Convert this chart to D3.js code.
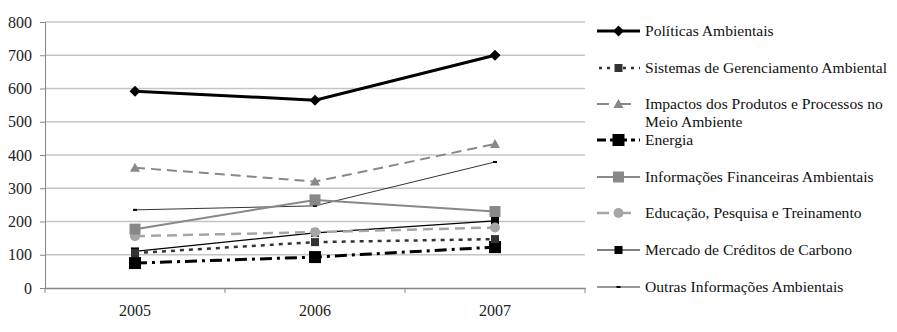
<!DOCTYPE html>
<html>
<head>
<meta charset="utf-8">
<script src="https://cdn.jsdelivr.net/npm/d3@7"></script>
<style>
  body { margin: 0; background: #fff; }
  text { font-family: "Liberation Serif", "Times New Roman", serif; }
</style>
</head>
<body>
<div id="chart"></div>
<script>
const years = ["2005", "2006", "2007"];
const yTicks = [0, 100, 200, 300, 400, 500, 600, 700, 800];

const names = [
    "Políticas Ambientais",
    "Sistemas de Gerenciamento Ambiental",
    "Impactos dos Produtos e Processos no Meio Ambiente",
    "Energia",
    "Informações Financeiras Ambientais",
    "Educação, Pesquisa e Treinamento",
    "Mercado de Créditos de Carbono",
    "Outras Informações Ambientais",
];
const politicas = [592, 565, 700];
const sistemas = [105, 138, 147];
const impactos = [362, 320, 433];
const energia = [75, 93, 123];
const financeiras = [177, 265, 230];
const educacao = [156, 168, 182];
const mercado = [110, 166, 202];
const outras = [235, 247, 379];

const values = [politicas, sistemas, impactos, energia, financeiras, educacao, mercado, outras];

// look of each series: stroke, width, dash, marker
const styles = [
    { color: "#000", width: 3, dash: null, legendDash: null, marker: "diamond", size: 11 },
    { color: "#333", width: 2.5, dash: "4,5", legendDash: "3,5", marker: "square", size: 8 },
    { color: "#888", width: 2, dash: "10,6", legendDash: "12,10", marker: "triangle", size: 10 },
    { color: "#000", width: 3, dash: "12,5,3,5", legendDash: "9,4,4,4", marker: "square", size: 12 },
    { color: "#888", width: 2, dash: null, legendDash: null, marker: "square", size: 11 },
    { color: "#a6a6a6", width: 2.5, dash: "10,6", legendDash: "12,10", marker: "circle", size: 10 },
    { color: "#000", width: 1.2, dash: null, legendDash: null, marker: "square", size: 8 },
    { color: "#000", width: 0.8, dash: null, legendDash: null, marker: "dash", size: 4 },
];

const width = 897,
    height = 332,
    margin = { top: 22, right: 312, bottom: 44, left: 45 };

const svg = d3
    .select("#chart")
    .append("svg")
    .attr("width", width)
    .attr("height", height);

const x = d3
    .scaleBand()
    .domain(years)
    .range([margin.left, width - margin.right]);

const y = d3
    .scaleLinear()
    .domain([0, 800])
    .range([height - margin.bottom, margin.top]);

// gridlines
svg.append("g")
    .selectAll("line")
    .data(yTicks.slice(1))
    .join("line")
    .attr("x1", margin.left)
    .attr("x2", width - margin.right)
    .attr("y1", (d) => y(d))
    .attr("y2", (d) => y(d))
    .attr("stroke", "#c4c4c4")
    .attr("stroke-width", 1.3);

// y axis
const yAxis = svg
    .append("g")
    .attr("transform", `translate(${margin.left},0)`)
    .call(d3.axisLeft(y).tickValues(yTicks).tickSize(5).tickPadding(8));
yAxis.select(".domain").attr("stroke", "#868686");
yAxis.selectAll(".tick line").attr("stroke", "#868686");
yAxis.selectAll(".tick text").attr("font-size", 16).attr("fill", "#222");

// x axis
const xAxis = svg
    .append("g")
    .attr("transform", `translate(0,${y(0)})`)
    .call(d3.axisBottom(x).tickSize(0).tickPadding(17));
xAxis.select(".domain").attr("stroke", "#868686").attr("stroke-width", 1.3);
xAxis.selectAll(".tick text").attr("font-size", 16).attr("fill", "#222");
svg.append("g")
    .selectAll("line")
    .data(d3.range(years.length + 1))
    .join("line")
    .attr("x1", (i) => margin.left + i * x.step())
    .attr("x2", (i) => margin.left + i * x.step())
    .attr("y1", y(0))
    .attr("y2", y(0) + 5)
    .attr("stroke", "#868686");

function drawMarker(g, st, cx, cy) {
    const s = st.size;
    if (st.marker === "diamond") {
        g.append("path")
            .attr("d", `M${cx},${cy - s / 2}L${cx + s / 2},${cy}L${cx},${cy + s / 2}L${cx - s / 2},${cy}Z`)
            .attr("fill", st.color);
    } else if (st.marker === "square") {
        g.append("rect")
            .attr("x", cx - s / 2)
            .attr("y", cy - s / 2)
            .attr("width", s)
            .attr("height", s)
            .attr("fill", st.color);
    } else if (st.marker === "triangle") {
        g.append("path")
            .attr("d", `M${cx},${cy - s / 2}L${cx + s / 2},${cy + s / 2 - 1}L${cx - s / 2},${cy + s / 2 - 1}Z`)
            .attr("fill", st.color);
    } else if (st.marker === "circle") {
        g.append("circle")
            .attr("cx", cx)
            .attr("cy", cy)
            .attr("r", s / 2)
            .attr("fill", st.color);
    } else if (st.marker === "dash") {
        g.append("rect")
            .attr("x", cx - s / 2)
            .attr("y", cy - 1)
            .attr("width", s)
            .attr("height", 2)
            .attr("fill", st.color);
    }
}

const line = d3
    .line()
    .x((d, i) => x(years[i]) + x.bandwidth() / 2)
    .y((d) => y(d));

// series, drawn last first so the top ones sit above
const order = [7, 6, 5, 4, 3, 2, 1, 0];
for (const k of order) {
    const st = styles[k];
    const g = svg.append("g");
    g.append("path")
        .datum(values[k])
        .attr("d", line)
        .attr("fill", "none")
        .attr("stroke", st.color)
        .attr("stroke-width", st.width)
        .attr("stroke-dasharray", st.dash);
    values[k].forEach((v, i) => {
        drawMarker(g, st, x(years[i]) + x.bandwidth() / 2, y(v));
    });
}

// legend
const legendRows = [31, 68, 104, 140, 177, 213, 250, 287];
const legend = svg.append("g");
names.forEach((name, k) => {
    const st = styles[k];
    const ly = legendRows[k];
    const g = legend.append("g");
    g.append("line")
        .attr("x1", 597)
        .attr("x2", 640)
        .attr("y1", ly)
        .attr("y2", ly)
        .attr("stroke", st.color)
        .attr("stroke-width", st.width)
        .attr("stroke-dasharray", st.legendDash)
        .attr("stroke-dashoffset", k === 1 ? -2 : 0);
    drawMarker(g, st, 618.5, ly);
    const lines = k === 2 ? ["Impactos dos Produtos e Processos no", "Meio Ambiente"] : [name];
    lines.forEach((t, j) => {
        g.append("text")
            .attr("x", 645)
            .attr("y", ly + j * 18)
            .attr("dy", "0.35em")
            .attr("font-size", 15.6)
            .attr("fill", "#111")
            .text(t);
    });
});
</script>
</body>
</html>
